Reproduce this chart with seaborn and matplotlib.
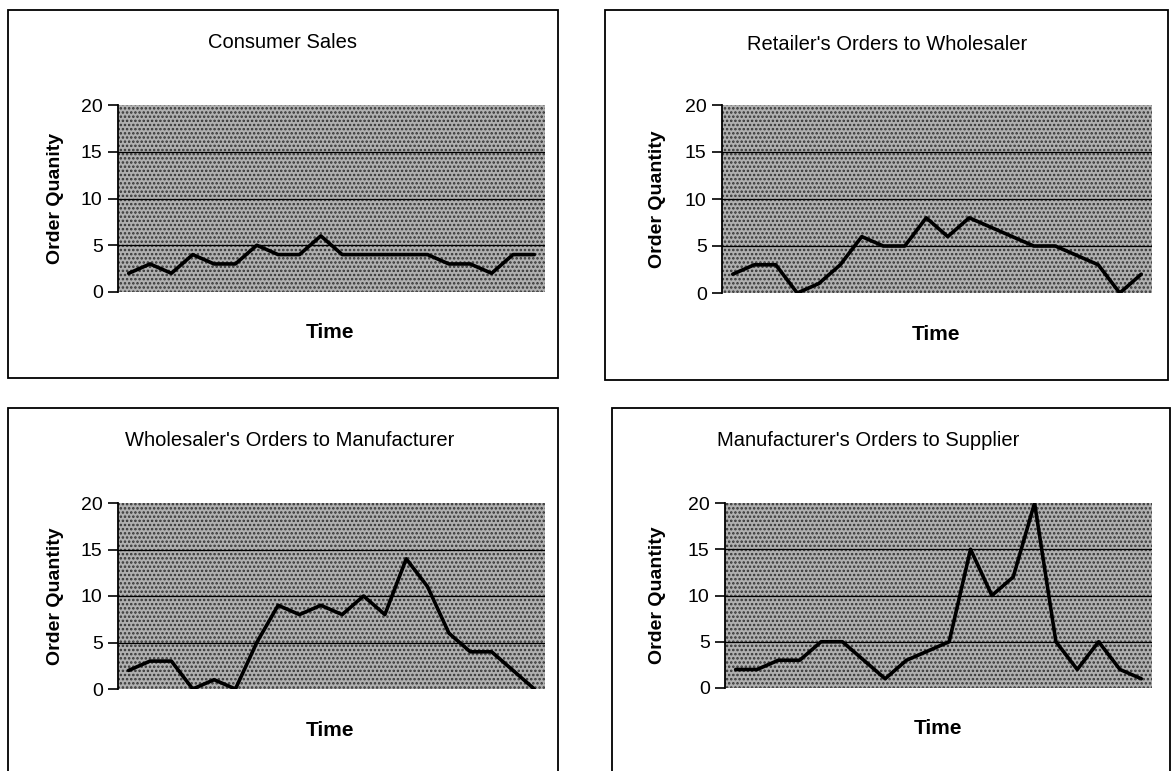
import matplotlib
matplotlib.use("Agg")
import matplotlib.pyplot as plt
import seaborn as sns
import pandas as pd
from matplotlib.patches import Rectangle

sns.set_theme(style="white")
plt.rcParams['font.family'] = ['Liberation Sans', 'DejaVu Sans']
plt.rcParams['hatch.linewidth'] = 1.2

# ---- data ----
time_steps = list(range(1, 21))
consumer_sales = [2, 3, 2, 4, 3, 3, 5, 4, 4, 6, 4, 4, 4, 4, 4, 3, 3, 2, 4, 4]
retailer_orders = [2, 3, 3, 0, 1, 3, 6, 5, 5, 8, 6, 8, 7, 6, 5, 5, 4, 3, 0, 2]
wholesaler_orders = [2, 3, 3, 0, 1, 0, 5, 9, 8, 9, 8, 10, 8, 14, 11, 6, 4, 4, 2, 0]
manufacturer_orders = [2, 2, 3, 3, 5, 5, 3, 1, 3, 4, 5, 15, 10, 12, 20, 5, 2, 5, 2, 1]

titles = ["Consumer Sales", "Retailer's Orders to Wholesaler",
          "Wholesaler's Orders to Manufacturer", "Manufacturer's Orders to Supplier"]
ylabels = ["Order Quanity", "Order Quantity", "Order Quantity", "Order Quantity"]
xlabel = "Time"
yticks = [0, 5, 10, 15, 20]

W, H = 1171, 771
fig = plt.figure(figsize=(W / 100, H / 100), dpi=100)
fig.patch.set_facecolor("white")


def fx(px):
    return px / W


def fy(py):
    return 1 - py / H


# panel frames (pixel coords: left, top, right, bottom)
frames = [(8, 10, 558, 378), (605, 10, 1168, 380), (8, 408, 558, 800), (612, 408, 1170, 800)]
# plot areas (left, top, right, bottom)
plots = [(118, 105, 545, 292), (722, 105, 1152, 293), (118, 503, 545, 689), (725, 503, 1152, 688)]
title_pos = [(283, 43), (887, 45), (290, 440), (868, 440)]
ylabel_x = [55, 657, 55, 657]

series = [consumer_sales, retailer_orders, wholesaler_orders, manufacturer_orders]

for i in range(4):
    l, t, r, b = frames[i]
    fig.patches.append(Rectangle((fx(l), fy(b)), fx(r - l), (b - t) / H,
                                 transform=fig.transFigure, fill=False,
                                 edgecolor="black", linewidth=1.3, zorder=0))
    pl, pt, pr, pb = plots[i]
    ax = fig.add_axes([fx(pl), fy(pb), fx(pr - pl), (pb - pt) / H])
    ax.set_facecolor("#b0b0b0")
    ax.add_patch(Rectangle((0, 0), 1, 1, transform=ax.transAxes, facecolor="none",
                           edgecolor="#333333", hatch="....", linewidth=0, zorder=0))
    df = pd.DataFrame({"t": time_steps, "q": series[i]})
    sns.lineplot(data=df, x="t", y="q", ax=ax, color="black", linewidth=2.6, zorder=5)
    ax.set_xlim(0.5, 20.5)
    ax.set_ylim(0, 20)
    ax.set_yticks(yticks)
    ax.set_yticklabels([str(v) for v in yticks], fontsize=14)
    ax.set_xticks([])
    for yv in [5, 10, 15]:
        ax.axhline(yv, color="black", linewidth=0.9, zorder=3)
    for s in ["top", "right", "bottom"]:
        ax.spines[s].set_visible(False)
    ax.spines["left"].set_color("black")
    ax.spines["left"].set_linewidth(1.3)
    ax.tick_params(axis="y", direction="out", length=7, width=1.2, color="black",
                   left=True, pad=4, labelcolor="black")
    ax.set_xlabel("")
    ax.set_ylabel("")
    fig.text(fx(ylabel_x[i]), fy((pt + pb) / 2), ylabels[i], rotation=90,
             ha="center", va="center", fontsize=14, fontweight="bold", color="black")
    fig.text(fx((pl + pr) / 2 - 1), fy(pb + 41), xlabel, ha="center", va="center",
             fontsize=15, fontweight="bold", color="black")
    tx, ty = title_pos[i]
    fig.text(fx(tx), fy(ty), titles[i], ha="center", va="center", fontsize=14.5,
             color="black")

fig.savefig("out.png", dpi=100, facecolor="white")
